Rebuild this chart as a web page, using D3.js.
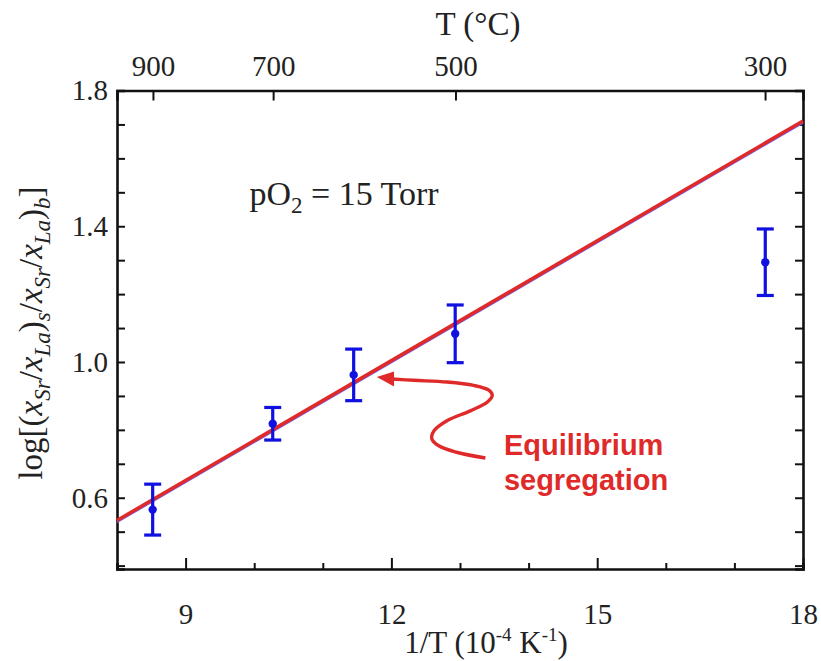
<!DOCTYPE html>
<html>
<head>
<meta charset="utf-8">
<script src="https://cdn.jsdelivr.net/npm/d3@7"></script>
<style>
  html, body { margin: 0; padding: 0; background: #fff; }
  svg { display: block; }
  .serif { font-family: "Liberation Serif", "Times New Roman", serif; fill: #222; }
</style>
</head>
<body>
<svg id="chart" width="821" height="661"></svg>
<script>
// Surface segregation of Sr: log ratio vs inverse temperature
const invT      = [8.52, 10.27, 11.45, 12.93, 17.45];   // 1/T (10^-4 K^-1)
const logRatio  = [0.565, 0.818, 0.962, 1.083, 1.294];
const errHalf   = [0.075, 0.048, 0.076, 0.085, 0.098];

// Equilibrium segregation fit
const fitX = [8, 18];
const fitY = [0.533, 1.71];

// Axis ticks
const bottomTicks = [9, 12, 15, 18];
const leftTicks   = [0.6, 1.0, 1.4, 1.8];
const topTickLabels = ["900", "700", "500", "300"];
const topTickPos    = [8.524, 10.276, 12.934, 17.447];

// Annotation arrow path (data coordinates) and label
const arrowX = [11.83, 12.01, 12.33, 12.81, 13.20, 13.42, 13.47, 13.40, 13.15, 12.81, 12.62, 12.59, 12.69, 12.95, 13.37];
const arrowY = [0.956, 0.950, 0.946, 0.941, 0.931, 0.917, 0.902, 0.882, 0.856, 0.827, 0.797, 0.773, 0.753, 0.734, 0.717];
const annotationLines = ["Equilibrium", "segregation"];

const svg = d3.select("#chart");
const margin = { left: 117, right: 18, top: 90.5, bottom: 92 };
const W = 821, H = 661;

const x = d3.scaleLinear().domain([8, 18]).range([margin.left, W - margin.right]);
const y = d3.scaleLinear().domain([0.39, 1.8]).range([H - margin.bottom, margin.top]);

const blue = "#1010e0";
const red = "#e02a2a";
const serif = "Liberation Serif, Times New Roman, serif";

// Axes (ticks point inward)
const gBottom = svg.append("g").attr("transform", `translate(0,${y.range()[0]})`);
gBottom.call(d3.axisBottom(x).tickValues(d3.range(8, 19, 1)).tickSize(-6).tickFormat(""));
gBottom.call(g => g.selectAll(".tick").filter(d => bottomTicks.includes(d)).select("line").attr("y2", -11));
const gBottomLab = svg.append("g").attr("transform", `translate(0,${y.range()[0]})`)
  .call(d3.axisBottom(x).tickValues(bottomTicks).tickSize(0).tickPadding(34).tickFormat(d3.format("d")));
gBottomLab.select(".domain").remove();

const gTop = svg.append("g").attr("transform", `translate(0,${y.range()[1]})`);
gTop.call(d3.axisTop(x).tickValues(topTickPos).tickSize(-10).tickPadding(15)
  .tickFormat((d, i) => topTickLabels[i]));

const gLeft = svg.append("g").attr("transform", `translate(${x.range()[0]},0)`);
gLeft.call(d3.axisLeft(y).tickValues(d3.range(0.4, 1.81, 0.1)).tickSize(-8).tickFormat(""));
const gLeftLab = svg.append("g").attr("transform", `translate(${x.range()[0]},0)`)
  .call(d3.axisLeft(y).tickValues(leftTicks).tickSize(0).tickPadding(9).tickFormat(d3.format(".1f")));
gLeftLab.select(".domain").remove();

const gRight = svg.append("g").attr("transform", `translate(${x.range()[1]},0)`);
gRight.call(d3.axisRight(y).tickValues(d3.range(0.4, 1.81, 0.1)).tickSize(-8).tickFormat(""));

svg.selectAll(".domain").attr("stroke", "#111").attr("stroke-width", 2.6);
svg.selectAll(".tick line").attr("stroke", "#111").attr("stroke-width", 2);
svg.selectAll(".tick text").attr("font-size", 29)
  .attr("font-family", serif).attr("fill", "#222");

// Fit line: thin blue beneath, red on top
const fitLine = d3.line().x(d => x(d[0])).y(d => y(d[1]));
const fitPts = fitX.map((v, i) => [v, fitY[i]]);
svg.append("path").datum(fitPts).attr("d", fitLine)
  .attr("fill", "none").attr("stroke", "#6a6aff").attr("stroke-width", 1.6)
  .attr("transform", "translate(0,1.9)");
svg.append("path").datum(fitPts).attr("d", fitLine)
  .attr("fill", "none").attr("stroke", red).attr("stroke-width", 3.6);

// Error bars and points
const pts = svg.append("g");
invT.forEach((xv, i) => {
  const lo = logRatio[i] - errHalf[i], hi = logRatio[i] + errHalf[i];
  pts.append("line").attr("x1", x(xv)).attr("x2", x(xv)).attr("y1", y(lo)).attr("y2", y(hi))
    .attr("stroke", blue).attr("stroke-width", 3.2);
  [lo, hi].forEach(v => pts.append("line")
    .attr("x1", x(xv) - 8.5).attr("x2", x(xv) + 8.5).attr("y1", y(v)).attr("y2", y(v))
    .attr("stroke", blue).attr("stroke-width", 3.2));
  pts.append("circle").attr("cx", x(xv)).attr("cy", y(logRatio[i])).attr("r", 4.2).attr("fill", blue);
});

// pO2 label
const po = svg.append("text").attr("class", "serif").attr("x", x(9.93)).attr("y", y(1.463))
  .attr("font-size", 34);
po.append("tspan").text("pO");
po.append("tspan").attr("font-size", 23).attr("dy", 8).text("2");
po.append("tspan").attr("dy", -8).text(" = 15 Torr");

// Annotation arrow
const arrowPts = arrowX.map((v, i) => [v, arrowY[i]]);
svg.append("path").datum(arrowPts.slice(1))
  .attr("d", d3.line().x(d => x(d[0])).y(d => y(d[1])).curve(d3.curveCatmullRom))
  .attr("fill", "none").attr("stroke", red).attr("stroke-width", 3.4);
const tip = arrowPts[0], back = arrowPts[1];
const tx = x(tip[0]) - 3, ty = y(tip[1]), bx = x(back[0]) + 2, by = y(back[1]);
svg.append("path")
  .attr("d", `M${tx},${ty} L${bx},${by - 7.5} L${bx},${by + 7.5} Z`).attr("fill", red);

const ann = svg.append("text").attr("font-family", "Liberation Sans, Arial, sans-serif")
  .attr("font-weight", "bold").attr("font-size", 29).attr("fill", red);
annotationLines.forEach((t, i) => ann.append("tspan").attr("x", x(13.64)).attr("y", y(0.7245) + i * 35).text(t));

// Top axis title
svg.append("text").attr("class", "serif").attr("font-size", 33)
  .attr("x", 478).attr("y", 35).attr("text-anchor", "middle").text("T (°C)");

// Bottom axis title
const bt = svg.append("text").attr("class", "serif").attr("font-size", 31)
  .attr("x", 486).attr("y", 653).attr("text-anchor", "middle");
bt.append("tspan").text("1/T (10");
bt.append("tspan").attr("font-size", 19).attr("dy", -12).text("-4");
bt.append("tspan").attr("dy", 12).text(" K");
bt.append("tspan").attr("font-size", 19).attr("dy", -12).text("-1");
bt.append("tspan").attr("dy", 12).text(")");

// Left axis title (rotated)
const lt = svg.append("text").attr("class", "serif").attr("font-size", 33)
  .attr("transform", `translate(42,333) rotate(-90)`)
  .attr("text-anchor", "middle");
const sub = (t) => lt.append("tspan").attr("font-size", 23).attr("dy", 8)
  .attr("font-style", "italic").text(t);
const base = (t) => lt.append("tspan").attr("dy", -8).text(t);
const xi = () => lt.append("tspan").attr("font-style", "italic").text("x");
lt.append("tspan").text("log[(");
xi(); sub("Sr"); base("/");
xi(); sub("La"); base(")");
sub("s"); base("/");
xi(); sub("Sr"); base("/");
xi(); sub("La"); base(")");
sub("b"); base("]");
</script>
</body>
</html>
